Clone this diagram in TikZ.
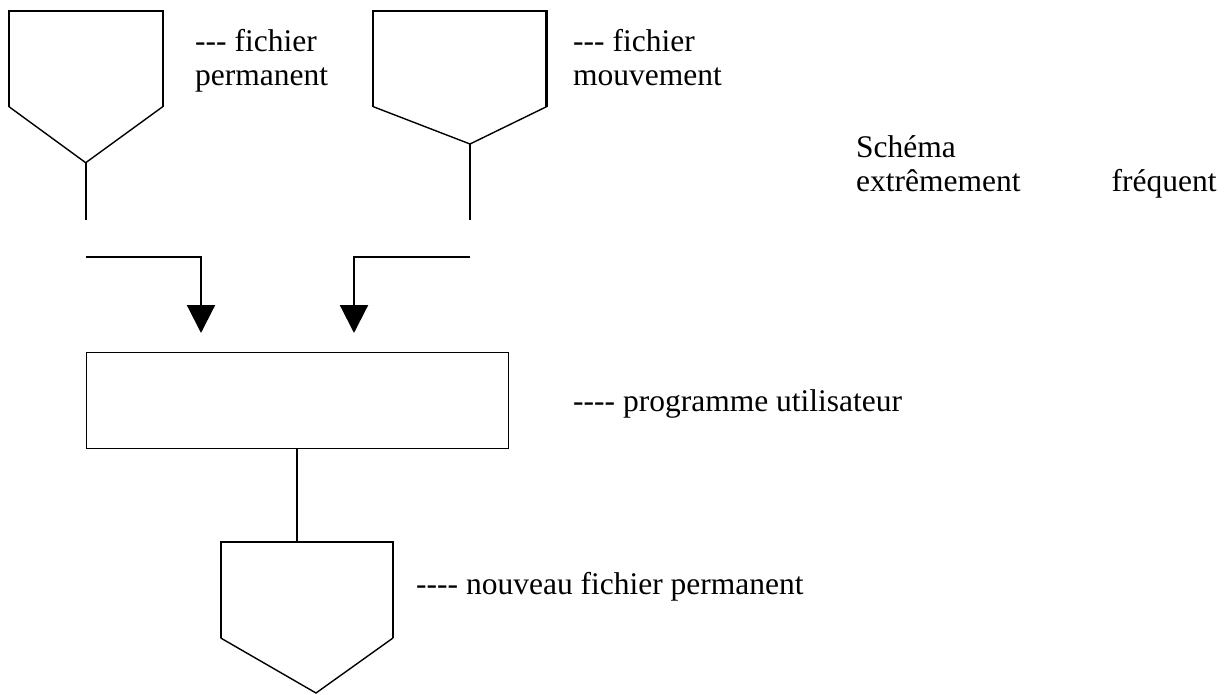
\documentclass[tikz,border=0pt]{standalone}
\usepackage{fontspec}
\setmainfont{Liberation Serif}[Ligatures=TeXOff]
\usetikzlibrary{arrows.meta}
\begin{document}
\begin{tikzpicture}[x=1pt,y=-1pt,
  thick line/.style={line width=2.2pt},
  thin line/.style={line width=1.4pt},
  lbl/.style={anchor=base west,inner sep=0pt,font=\fontsize{31.5}{34}\selectfont},
  tip/.style={-{Triangle[width=28pt,length=28pt]}},
  line join=miter]
\useasboundingbox (0,0) rectangle (1229,695);
\fill[white] (0,0) rectangle (1229,695);

% left file (fichier permanent)
\coordinate (pA) at (85.7,162.7);
\draw[thick line] (9,106.7) -- (9,10.7) -- (162.7,10.7) -- (162.7,106.7);
\draw[thin line] (9,106.7) -- (pA) -- (162.7,106.7);
\coordinate (pS) at (85.7,220);
\draw[thick line] (pA) -- (pS);

% right file (fichier mouvement)
\coordinate (mA) at (470,144);
\draw[thick line] (373.3,106.7) -- (373.3,10.7) -- (546.5,10.7) -- (546.5,106.7);
\draw[thin line] (373.3,106.7) -- (mA) -- (546.5,106.7);
\coordinate (mS) at (470,220);
\draw[thick line] (mA) -- (mS);

% program box
\node[draw,thin line,minimum width=422.3pt,minimum height=96pt,inner sep=0pt,anchor=north west] (prog) at (85.7,351.7) {};

% arrows into the program
\coordinate (l0) at (85.7,256.7);
\coordinate (l1) at (201,256.7);
\coordinate (lT) at (201,333);
\coordinate (r0) at (470,256.7);
\coordinate (r1) at (354,256.7);
\coordinate (rT) at (354,333);
\draw[thick line,tip] (l0) -- (l1) -- (lT);
\draw[thick line,tip] (r0) -- (r1) -- (rT);

% new permanent file
\coordinate (nTop) at (297,541.7);
\coordinate (nA) at (316,693);
\draw[thick line] (prog.south -| nTop) -- (nTop);
\draw[thick line] (220.7,638) -- (220.7,541.7) -- (393,541.7) -- (393,638);
\draw[thin line] (220.7,638) -- (nA) -- (393,638);

% labels
\node[lbl] (t1a) at (195,52) {--- fichier};
\node[lbl] (t1b) at (195,86) {permanent};
\node[lbl] (t2a) at (573,52) {--- fichier};
\node[lbl] (t2b) at (573,86) {mouvement};
\node[lbl] (t3a) at (856,158) {Schéma};
\node[lbl] (t3b) at (856,192) {extrêmement};
\node[lbl] (t3c) at (1111.5,192) {fréquent};
\node[lbl] (t4) at (573,411) {---- programme utilisateur};
\node[lbl] (t5) at (416,594) {---- nouveau fichier permanent};
\end{tikzpicture}
\end{document}
